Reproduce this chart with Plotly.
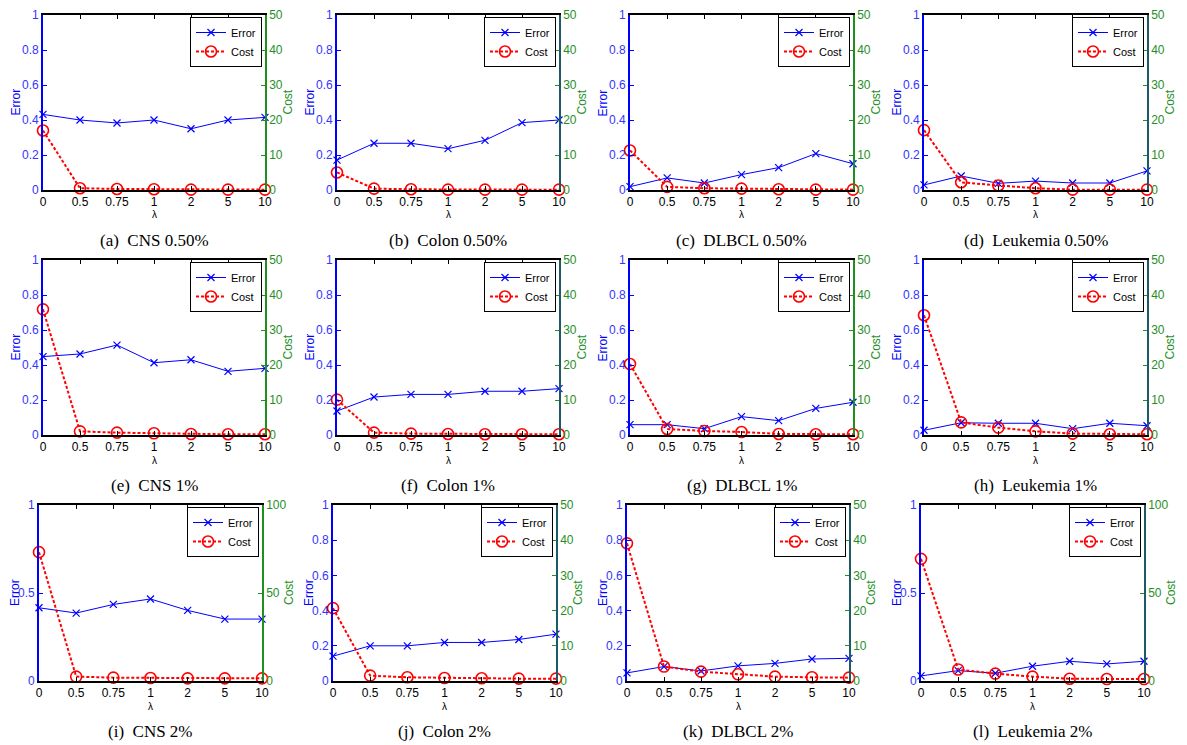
import plotly.graph_objects as go

lambdas = ["0", "0.5", "0.75", "1", "2", "5", "10"]

captions = ["(a)  CNS 0.50%", "(b)  Colon 0.50%", "(c)  DLBCL 0.50%", "(d)  Leukemia 0.50%",
            "(e)  CNS 1%", "(f)  Colon 1%", "(g)  DLBCL 1%", "(h)  Leukemia 1%",
            "(i)  CNS 2%", "(j)  Colon 2%", "(k)  DLBCL 2%", "(l)  Leukemia 2%"]

err_a = [0.432, 0.400, 0.383, 0.400, 0.350, 0.400, 0.415]
cost_a = [17.0, 0.5, 0.3, 0.2, 0.1, 0.1, 0.1]
err_b = [0.171, 0.267, 0.267, 0.236, 0.284, 0.385, 0.400]
cost_b = [5.0, 0.4, 0.2, 0.1, 0.1, 0.1, 0.1]
err_c = [0.019, 0.069, 0.040, 0.088, 0.128, 0.208, 0.150]
cost_c = [11.3, 0.9, 0.5, 0.4, 0.2, 0.1, 0.1]
err_d = [0.029, 0.080, 0.038, 0.051, 0.040, 0.040, 0.109]
cost_d = [17.1, 2.2, 1.3, 0.5, 0.1, 0.1, 0.1]
err_e = [0.448, 0.463, 0.514, 0.413, 0.430, 0.364, 0.381]
cost_e = [35.9, 1.05, 0.67, 0.48, 0.3, 0.2, 0.2]
err_f = [0.137, 0.217, 0.232, 0.232, 0.250, 0.250, 0.265]
cost_f = [10.1, 0.67, 0.4, 0.3, 0.2, 0.2, 0.2]
err_g = [0.059, 0.059, 0.036, 0.105, 0.082, 0.152, 0.187]
cost_g = [20.3, 1.7, 1.14, 0.86, 0.3, 0.2, 0.2]
err_h = [0.027, 0.070, 0.067, 0.067, 0.036, 0.067, 0.053]
cost_h = [34.2, 3.6, 2.1, 1.05, 0.4, 0.2, 0.2]
err_i = [0.416, 0.386, 0.435, 0.466, 0.401, 0.352, 0.352]
cost_i = [73.2, 2.5, 1.9, 1.7, 1.5, 1.5, 1.5]
err_j = [0.141, 0.200, 0.200, 0.219, 0.219, 0.236, 0.266]
cost_j = [20.7, 1.52, 1.05, 0.86, 0.76, 0.67, 0.67]
err_k = [0.046, 0.082, 0.057, 0.086, 0.100, 0.125, 0.129]
cost_k = [39.1, 4.1, 2.66, 1.9, 1.24, 1.05, 0.95]
err_l = [0.029, 0.059, 0.044, 0.084, 0.112, 0.097, 0.112]
cost_l = [69.4, 6.5, 4.2, 2.5, 1.3, 1.1, 1.1]

errors = [err_a, err_b, err_c, err_d, err_e, err_f, err_g, err_h, err_i, err_j, err_k, err_l]
costs = [cost_a, cost_b, cost_c, cost_d, cost_e, cost_f, cost_g, cost_h, cost_i, cost_j, cost_k, cost_l]
cost_max = [50, 50, 50, 50, 50, 50, 50, 50, 100, 50, 50, 100]

err_ticks_fine = [0, 0.2, 0.4, 0.6, 0.8, 1]
err_ticks_coarse = [0, 0.5, 1]
cost_ticks_50 = [0, 10, 20, 30, 40, 50]
cost_ticks_100 = [0, 50, 100]

# ---- layout / style (pixel geometry of the 1187x745 page) ----
OFF = 8                      # default page body margin
FW, FH = 1187 - OFF, 745 - OFF
cols_r12 = [(43, 265), (337, 559), (630, 853), (924, 1147)]
cols_r3 = [(39, 262), (333, 556), (627, 849), (921, 1144)]
rows = [(15, 190), (260, 435), (505, 681)]
caption_y = [240, 485, 731]
green = "#1f8f1f"
teal = "#1d5a68"
right_line = [green, teal, green, teal, green, teal, green, teal, green, teal, teal, teal]
blue = "#0000ff"
blue_txt = "#3535ff"


def px(x):
    return (x - OFF) / FW


def py(y):
    return 1 - (y - OFF) / FH


fig = go.Figure()
annotations = []
layout = dict(width=FW, height=FH, margin=dict(l=0, r=0, t=0, b=0),
              paper_bgcolor="white", plot_bgcolor="white",
              font=dict(family="Liberation Sans, Arial, sans-serif", size=12))

for k in range(12):
    row, col = divmod(k, 4)
    x0, x1 = (cols_r3 if row == 2 else cols_r12)[col]
    top, bot = rows[row]
    xa = f"x{k+1}" if k else "x"
    yl = f"y{2*k+1}" if k else "y"
    yr = f"y{2*k+2}"
    leg = f"legend{k+1}" if k else "legend"

    fig.add_trace(go.Scatter(x=lambdas, y=errors[k], name="Error", xaxis=xa, yaxis=yl,
                             mode="lines+markers", cliponaxis=False, legend=leg,
                             line=dict(color=blue, width=1),
                             marker=dict(symbol="x-thin", size=7, line=dict(color=blue, width=1.2))))
    fig.add_trace(go.Scatter(x=lambdas, y=costs[k], name="Cost", xaxis=xa, yaxis=yr,
                             mode="lines+markers", cliponaxis=False, legend=leg,
                             line=dict(color="#ff0000", width=2, dash="3px,2px"),
                             marker=dict(symbol="circle-open", size=11, line=dict(color="#ff0000", width=1.6))))

    xdom = [px(x0), px(x1)]
    ydom = [py(bot), py(top)]
    coarse = cost_max[k] == 100
    layout["xaxis" + (str(k+1) if k else "")] = dict(
        domain=xdom, anchor=yl, type="category", range=[0, 6],
        showline=True, linecolor="black", linewidth=2, mirror="ticks",
        ticks="inside", ticklen=4, tickcolor="black", showgrid=False, zeroline=False,
        tickfont=dict(size=12, color="black"), automargin=False)
    layout["yaxis" + (str(2*k+1) if k else "")] = dict(
        domain=ydom, anchor=xa, range=[0, 1],
        tickvals=err_ticks_coarse if coarse else err_ticks_fine,
        showline=True, linecolor=blue, linewidth=1.6, ticks="inside", ticklen=4, tickcolor=blue,
        showgrid=False, zeroline=False, tickfont=dict(size=12, color=blue_txt), automargin=False)
    layout["yaxis" + str(2*k+2)] = dict(
        domain=ydom, anchor=xa, overlaying=yl, side="right", range=[0, cost_max[k]],
        tickvals=cost_ticks_100 if coarse else cost_ticks_50,
        showline=True, linecolor=right_line[k], linewidth=1.6, ticks="inside", ticklen=4,
        tickcolor=green, showgrid=False, zeroline=False,
        tickfont=dict(size=12, color=green), automargin=False)
    layout[leg] = dict(x=px(x1 - 3), y=py(top + 2), xanchor="right", yanchor="top",
                       bgcolor="white", bordercolor="black", borderwidth=1,
                       font=dict(size=11, color="black"), tracegroupgap=0, itemwidth=30)
    ymid = (top + bot) / 2
    annotations.append(dict(text="Error", x=px(x0 - (24 if row == 2 else 28)), y=py(ymid), textangle=-90,
                            font=dict(size=12, color=blue)))
    annotations.append(dict(text="Cost", x=px(x1 + (27 if coarse else 22)), y=py(ymid), textangle=-90,
                            font=dict(size=12, color=green)))
    annotations.append(dict(text="λ", x=px((x0 + x1) / 2), y=py(bot + 25),
                            font=dict(size=10, color="black")))
    annotations.append(dict(text=captions[k], x=px((x0 + x1) / 2), y=py(caption_y[row]),
                            font=dict(family="Liberation Serif, Times New Roman, serif", size=17, color="black")))

for a in annotations:
    a.update(xref="paper", yref="paper", xanchor="center", yanchor="middle", showarrow=False)
layout["annotations"] = annotations

fig.update_layout(**layout)
fig.write_html("out.html")
